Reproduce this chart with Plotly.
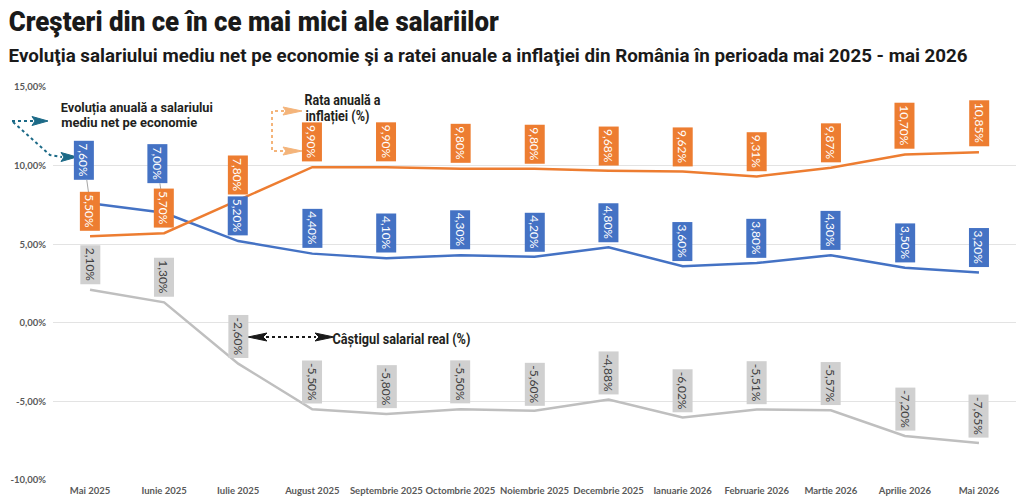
import json
import plotly.graph_objects as go

categories = ["Mai 2025", "Iunie 2025", "Iulie 2025", "August 2025", "Septembrie 2025",
              "Octombrie 2025", "Noiembrie 2025", "Decembrie 2025", "Ianuarie 2026",
              "Februarie 2026", "Martie 2026", "Aprilie 2026", "Mai 2026"]
salary = [7.60, 7.00, 5.20, 4.40, 4.10, 4.30, 4.20, 4.80, 3.60, 3.80, 4.30, 3.50, 3.20]
inflation = [5.50, 5.70, 7.80, 9.90, 9.90, 9.80, 9.80, 9.68, 9.62, 9.31, 9.87, 10.70, 10.85]
real_gain = [2.10, 1.30, -2.60, -5.50, -5.80, -5.50, -5.60, -4.88, -6.02, -5.51, -5.57, -7.20, -7.65]
y_ticks = [15, 10, 5, 0, -5, -10]
y_ticktext = ["15,00%", "10,00%", "5,00%", "0,00%", "-5,00%", "-10,00%"]

BLUE = "#4472C4"
ORANGE = "#ED7D31"
GREY = "#BFBFBF"
GREY_BOX = "#D0D0D0"

W, H = 1024, 503
ML, MR, MT, MB = 53, 8, 87, 23
PW, PH = W - ML - MR, H - MT - MB


def px(x):
    return (x - ML) / PW


def py(y):
    return (H - MB - y) / PH


def fmt(v):
    return f"{v:.2f}".replace(".", ",") + "%"


fig = go.Figure()
fig.add_trace(go.Scatter(x=categories, y=real_gain, mode="lines",
                         line=dict(color=GREY, width=2.5), hoverinfo="skip"))
fig.add_trace(go.Scatter(x=categories, y=salary, mode="lines",
                         line=dict(color=BLUE, width=2.5), hoverinfo="skip"))
fig.add_trace(go.Scatter(x=categories, y=inflation, mode="lines",
                         line=dict(color=ORANGE, width=2.5), hoverinfo="skip"))

LABEL_FONT = "Lato, 'Open Sans', sans-serif"
annotations = []


def add_labels(values, bg, fg, leader=None):
    leader = leader or {}
    for i, (c, v) in enumerate(zip(categories, values)):
        base = dict(x=c, y=v, xref="x", yref="y", text=fmt(v), textangle=90,
                    bgcolor=bg, borderpad=2,
                    font=dict(family=LABEL_FONT, size=12, color=fg))
        if i in leader:
            ax, ay = leader[i]
            base.update(showarrow=True, arrowhead=0, arrowwidth=1, arrowcolor="#A6A6A6",
                        ax=ax, ay=ay, standoff=0)
        else:
            base.update(showarrow=False, yanchor="bottom", yshift=5)
        annotations.append(base)


add_labels(salary, BLUE, "white", leader={0: (-6, -43), 1: (-7, -49)})
add_labels(real_gain, GREY_BOX, "#404040")
add_labels(inflation, ORANGE, "white")

HEAD_FONT = "Roboto, 'Liberation Sans', sans-serif"
DARK = "#231F20"
fit_lengths = {}


def text_ann(cx, cy, t, size, length, weight=700, color=DARK):
    fit_lengths[len(annotations)] = length
    annotations.append(dict(x=px(cx), y=py(cy), xref="paper", yref="paper", text=t,
                            showarrow=False, xanchor="center", yanchor="middle",
                            font=dict(family=HEAD_FONT, size=size, color=color, weight=weight)))


text_ann(137, 107.5, "Evoluția anuală a salariului", 13, 152)
text_ann(129, 122.5, "mediu net pe economie", 13, 136)
text_ann(343, 99.5, "Rata anuală a", 14, 76)
text_ann(337, 116.5, "inflației (%)", 14, 64)
text_ann(401, 338.5, "Câștigul salarial real (%)", 15, 138)

# Titles
text_ann(253, 22, "Creşteri din ce în ce mai mici ale salariilor", 27, 490, weight=900, color="#1a1a1a")
text_ann(487.5, 55.5, "Evoluţia salariului mediu net pe economie şi a ratei anuale a inflaţiei din România în perioada mai 2025 - mai 2026",
         18, 959, weight=700, color="#1a1a1a")

shapes = []


def dotted(points, color, width=2):
    path = "M " + " L ".join(f"{px(a)},{py(b)}" for a, b in points)
    shapes.append(dict(type="path", path=path, xref="paper", yref="paper",
                       line=dict(color=color, width=width, dash="dot"), layer="above"))


def tri(points, color):
    path = "M " + " L ".join(f"{px(a)},{py(b)}" for a, b in points) + " Z"
    shapes.append(dict(type="path", path=path, xref="paper", yref="paper",
                       fillcolor=color, line=dict(color=color, width=1), layer="above"))


TEAL = "#1C6A87"
dotted([(12, 121), (33, 121)], TEAL)
tri([(32, 116.5), (48, 121), (32, 125.5), (35, 121)], TEAL)
dotted([(13, 122), (50, 155), (62, 157)], TEAL)
tri([(61, 152.5), (77, 157), (61, 161.5), (64, 157)], TEAL)

LORANGE = "#F4B47A"
dotted([(284, 111), (272, 111), (272, 151), (284, 151)], LORANGE)
tri([(283, 107), (302, 111), (283, 115), (286, 111)], LORANGE)
tri([(283, 147), (302, 151), (283, 155), (286, 151)], LORANGE)

BLK = "#1a1a1a"
dotted([(266, 337), (316, 337)], BLK)
tri([(248, 337), (267, 333), (263, 337), (267, 341)], BLK)
tri([(334, 337), (315, 333), (319, 337), (315, 341)], BLK)

fig.update_layout(
    width=W, height=H,
    margin=dict(l=ML, r=MR, t=MT, b=MB),
    paper_bgcolor="white", plot_bgcolor="white",
    showlegend=False,
    annotations=annotations,
    shapes=shapes,
    xaxis=dict(type="category", range=[-0.5, 12.5], showgrid=False, showline=False,
               zeroline=False, ticks="", tickangle=0, ticklabelstandoff=3,
               tickfont=dict(family=LABEL_FONT, size=9.5, color="#595959", weight="bold")),
    yaxis=dict(range=[-10, 15], tickvals=y_ticks, ticktext=y_ticktext,
               showgrid=True, gridcolor="#E3E3E3", gridwidth=1, zeroline=False,
               showline=False, ticks="", ticklabelstandoff=6,
               tickfont=dict(family=LABEL_FONT, size=9.5, color="#595959", weight="bold")),
)

post = """
var gd = document.getElementById('{plot_id}');
var fits = FITS;
function fitText() {
  Object.keys(fits).forEach(function (k) {
    var g = gd.querySelector('.annotation[data-index="' + k + '"]');
    if (!g) { return; }
    var t = g.querySelector('text.annotation-text');
    if (!t) { return; }
    var L = fits[k];
    t.setAttribute('textLength', L);
    t.setAttribute('lengthAdjust', 'spacingAndGlyphs');
    var r = g.querySelector('rect.bg');
    var cx = parseFloat(t.getAttribute('x'));
    if (r && !isNaN(cx)) {
      r.setAttribute('x', cx - L / 2 - 1);
      r.setAttribute('width', L + 2);
    }
  });
}
fitText();
if (gd.on) { gd.on('plotly_afterplot', fitText); }
""".replace("FITS", json.dumps({str(k): v for k, v in fit_lengths.items()}))

fig.write_html("out.html", post_script=post)
